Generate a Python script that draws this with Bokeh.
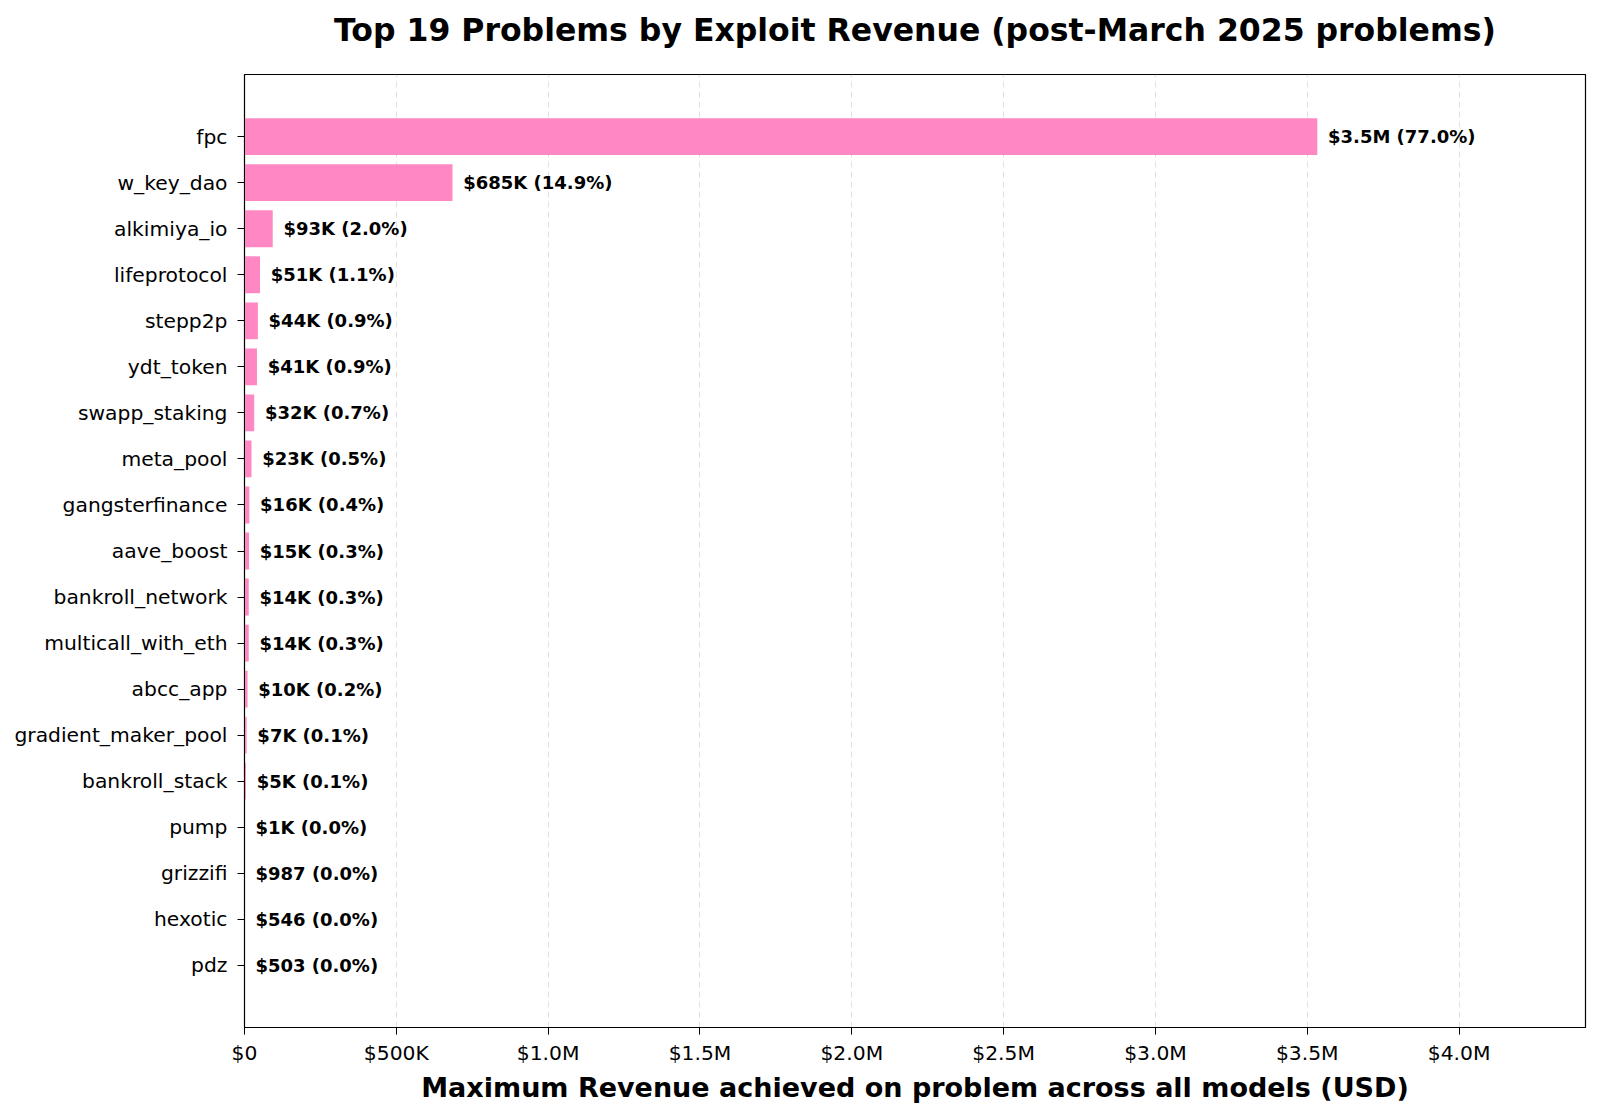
from bokeh.plotting import figure
from bokeh.models import Range1d, FactorRange, FixedTicker, ColumnDataSource, Title
from bokeh.core.properties import value
from bokeh.embed import file_html
from bokeh.resources import INLINE

problems = ["fpc", "w_key_dao", "alkimiya_io", "lifeprotocol", "stepp2p", "ydt_token",
            "swapp_staking", "meta_pool", "gangsterfinance", "aave_boost", "bankroll_network",
            "multicall_with_eth", "abcc_app", "gradient_maker_pool", "bankroll_stack", "pump",
            "grizzifi", "hexotic", "pdz"]
revenue = [3533000, 685000, 93000, 51000, 44000, 41000, 32000, 23000, 16000, 15000, 14000,
           14000, 10000, 7000, 5000, 1000, 987, 546, 503]
share_pct = [77.0, 14.9, 2.0, 1.1, 0.9, 0.9, 0.7, 0.5, 0.4, 0.3, 0.3, 0.3, 0.2, 0.1, 0.1,
             0.0, 0.0, 0.0, 0.0]
x_ticks = [0, 500000, 1000000, 1500000, 2000000, 2500000, 3000000, 3500000, 4000000]
x_tick_labels = ["$0", "$500K", "$1.0M", "$1.5M", "$2.0M", "$2.5M", "$3.0M", "$3.5M", "$4.0M"]
title_text = "Top 19 Problems by Exploit Revenue (post-March 2025 problems)"


def fmt(v):
    if v >= 1e6:
        return f"${v/1e6:.1f}M"
    if v >= 1e3:
        return f"${v/1e3:.0f}K"
    return f"${v:.0f}"


vmax = max(revenue)
labels = [f"{fmt(v)} ({p:.1f}%)" for v, p in zip(revenue, share_pct)]
label_x = [v + vmax * 0.01 for v in revenue]

src = ColumnDataSource(dict(name=problems, rev=revenue, lx=label_x, lab=labels))

FONT = "DejaVu Sans"

p = figure(width=1592, height=1110, output_backend="svg", toolbar_location=None,
           y_range=FactorRange(factors=problems[::-1], range_padding=0.85,
                               range_padding_units="absolute"),
           x_range=Range1d(0, vmax * 1.25),
           min_border_left=244, min_border_right=7, min_border_top=74, min_border_bottom=83)
p.title.text = ""

# spacer between frame and title (closest to the frame)
p.add_layout(Title(text=" ", text_font_size="1px", standoff=24), "above")
p.add_layout(Title(text=title_text, text_font=FONT, text_font_size="31.5px",
                   text_font_style="bold", text_color="black", align="center",
                   standoff=0), "above")

p.hbar(y="name", right="rev", left=0, height=0.8, source=src,
       fill_color="#ff87c3", line_color=None)

p.text(x="lx", y="name", text="lab", source=src, text_align="left",
       text_baseline="middle", text_font_size="18px", text_font_style="bold",
       text_font=value(FONT), text_color="black")

p.outline_line_color = "black"
p.outline_line_width = 1.2
p.outline_line_alpha = 1

p.ygrid.grid_line_color = None
p.xgrid.ticker = FixedTicker(ticks=x_ticks)
p.xgrid.grid_line_color = "#cccccc"
p.xgrid.grid_line_alpha = 0.6
p.xgrid.grid_line_dash = "6 4"

p.xaxis.ticker = FixedTicker(ticks=x_ticks)
p.xaxis.major_label_overrides = {t: l for t, l in zip(x_ticks, x_tick_labels)}
p.xaxis.axis_label = "Maximum Revenue achieved on problem across all models (USD)"
p.xaxis.axis_label_text_font = FONT
p.xaxis.axis_label_text_font_size = "27px"
p.xaxis.axis_label_text_font_style = "bold"
p.xaxis.axis_label_text_color = "black"
p.xaxis.axis_label_standoff = 4
p.xaxis.minor_tick_line_color = None

for ax in (p.xaxis, p.yaxis):
    ax.major_label_text_font = FONT
    ax.major_label_text_font_size = "20.3px"
    ax.major_label_text_color = "black"
    ax.axis_line_color = "black"
    ax.major_tick_line_color = "black"
    ax.major_tick_out = 7
    ax.major_tick_in = 0
    ax.major_label_standoff = 6

p.yaxis.major_label_standoff = 10

p.background_fill_color = "white"
p.border_fill_color = "white"

open("out.html", "w").write(file_html(p, INLINE))
